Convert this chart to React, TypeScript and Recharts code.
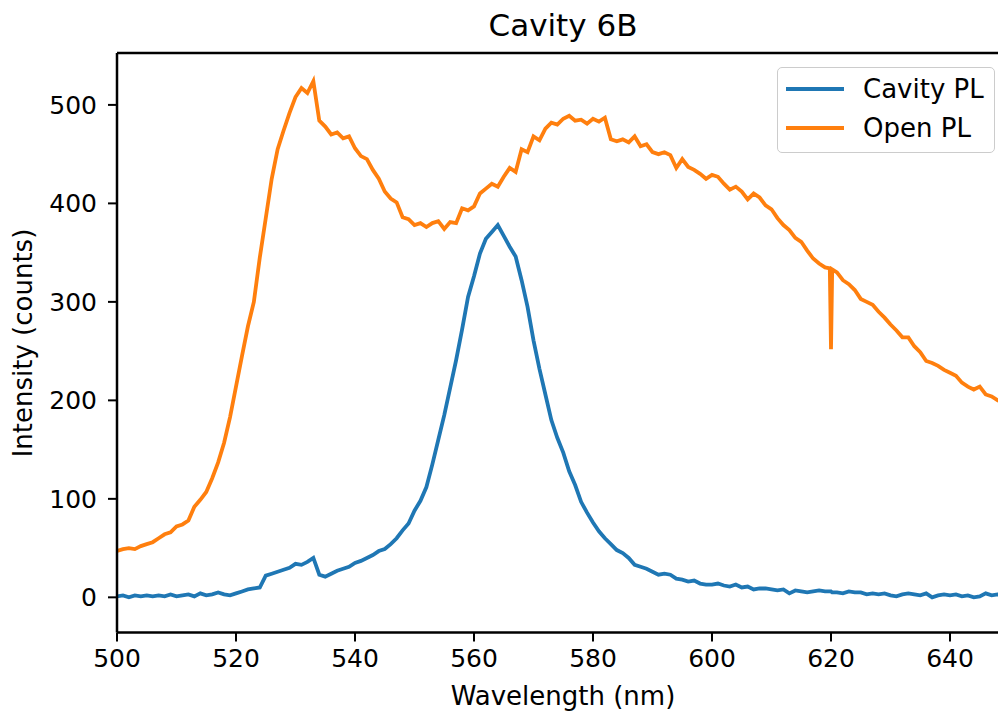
import { LineChart, Line, XAxis, YAxis, ReferenceLine, Legend } from 'recharts';

// wavelength grid (nm); extra points around the 620 nm spike
const wavelengths = [
  500, 501, 502, 503, 504, 505, 506, 507, 508, 509,
  510, 511, 512, 513, 514, 515, 516, 517, 518, 519,
  520, 521, 522, 523, 524, 525, 526, 527, 528, 529,
  530, 531, 532, 533, 534, 535, 536, 537, 538, 539,
  540, 541, 542, 543, 544, 545, 546, 547, 548, 549,
  550, 551, 552, 553, 554, 555, 556, 557, 558, 559,
  560, 561, 562, 563, 564, 565, 566, 567, 568, 569,
  570, 571, 572, 573, 574, 575, 576, 577, 578, 579,
  580, 581, 582, 583, 584, 585, 586, 587, 588, 589,
  590, 591, 592, 593, 594, 595, 596, 597, 598, 599,
  600, 601, 602, 603, 604, 605, 606, 607, 608, 609,
  610, 611, 612, 613, 614, 615, 616, 617, 618, 619,
  619.8, 620, 620.2,
  621, 622, 623, 624, 625, 626, 627, 628, 629, 630,
  631, 632, 633, 634, 635, 636, 637, 638, 639, 640,
  641, 642, 643, 644, 645, 646, 647, 648, 649, 650,
];

const cavityPL = [
  1, 2, 0, 2, 1, 2, 1, 2, 1, 3,
  1, 2, 3, 1, 4, 2, 3, 5, 3, 2,
  4, 6, 8, 9, 10, 22, 24, 26, 28, 30,
  34, 33, 36, 40, 23, 21, 24, 27, 29, 31,
  35, 37, 40, 43, 47, 49, 54, 60, 68, 75,
  88, 98, 112, 135, 160, 185, 213, 241, 272, 305,
  326, 349, 364, 371, 378, 367, 356, 346, 322, 295,
  261, 232, 206, 180, 162, 147, 128, 114, 97, 86,
  76, 67, 60, 54, 48, 45, 40, 33, 31, 29,
  26, 23, 24, 23, 19, 18, 16, 17, 14, 13,
  13, 14, 12, 11, 13, 10, 11, 8, 9, 9,
  8, 7, 8, 4, 7, 6, 5, 6, 7, 6,
  6, 6, 5,
  5, 4, 6, 5, 5, 3, 4, 3, 4, 2,
  1, 3, 4, 3, 2, 4, 0, 2, 3, 2,
  3, 1, 2, 0, 1, 4, 2, 3, 2, 3,
];

const openPL = [
  47, 49, 50, 49, 52, 54, 56, 60, 64, 66,
  72, 74, 78, 92, 99, 107, 121, 137, 157, 183,
  214, 245, 275, 300, 345, 385, 425, 455, 474, 492,
  508, 517, 512, 524, 484, 478, 470, 472, 466, 468,
  456, 448, 445, 434, 425, 412, 405, 401, 386, 384,
  378, 380, 376, 380, 382, 374, 381, 380, 395, 393,
  397, 410, 415, 420, 417, 427, 436, 432, 455, 452,
  468, 464, 476, 482, 480, 486, 489, 484, 485, 481,
  486, 483, 487, 465, 463, 465, 462, 468, 458, 460,
  452, 450, 452, 449, 436, 445, 437, 434, 430, 425,
  429, 427, 420, 414, 417, 412, 404, 410, 406, 398,
  394, 385, 378, 373, 365, 361, 352, 344, 339, 335,
  334, 252, 333,
  330, 322, 318, 312, 303, 300, 297, 290, 284, 277,
  271, 264, 264, 255, 249, 240, 238, 235, 231, 228,
  225, 218, 214, 211, 214, 206, 204, 200, 198, 196,
];

const xTicks = [500, 520, 540, 560, 580, 600, 620, 640];
const yTicks = [0, 100, 200, 300, 400, 500];

const seriesNames = ['Cavity PL', 'Open PL'];
const seriesColors = ['#1f77b4', '#ff7f0e'];

const data = wavelengths.map((w, i) => ({
  wavelength: w,
  cavity: cavityPL[i],
  open: openPL[i],
}));

const FONT = '"DejaVu Sans", sans-serif';

const LegendBox = () => (
  <div
    style={{
      width: 218,
      height: 86,
      boxSizing: 'border-box',
      border: '1.5px solid #cccccc',
      borderRadius: 5,
      background: 'rgba(255,255,255,0.8)',
      position: 'relative',
      fontFamily: FONT,
      fontSize: 26,
      color: '#000',
    }}
  >
    {seriesNames.map((name, i) => (
      <div key={name}>
        <div
          style={{
            position: 'absolute',
            left: 8,
            top: (i === 0 ? 21 : 60) - 2,
            width: 58,
            height: 4,
            background: seriesColors[i],
          }}
        />
        <div
          style={{
            position: 'absolute',
            left: 85,
            top: (i === 0 ? 21 : 60) - 15,
            lineHeight: '30px',
            whiteSpace: 'nowrap',
          }}
        >
          {name}
        </div>
      </div>
    ))}
  </div>
);

const App = () => {
  return (
    <div
      style={{
        position: 'absolute',
        left: 0,
        top: 0,
        width: 998,
        height: 713,
        overflow: 'hidden',
        background: '#fff',
      }}
    >
      <div
        style={{
          position: 'absolute',
          left: 0,
          width: 1126,
          top: 10,
          textAlign: 'center',
          fontFamily: FONT,
          fontSize: 31,
          lineHeight: '31px',
          color: '#000',
        }}
      >
        Cavity 6B
      </div>
      <LineChart
        width={1020}
        height={713}
        data={data}
        margin={{ top: 53, right: 10.5, bottom: 0, left: 0 }}
      >
        <XAxis
          dataKey="wavelength"
          type="number"
          domain={[500, 650]}
          ticks={xTicks}
          allowDataOverflow
          height={80.5}
          axisLine={{ stroke: '#000', strokeWidth: 2.5 }}
          tickLine={{ stroke: '#000', strokeWidth: 2 }}
          tickSize={9}
          tickMargin={8}
          tick={{ fill: '#000', fontSize: 25, fontFamily: FONT }}
          label={{
            content: () => (
              <text x={563} y={705} textAnchor="middle" fontSize={26} fontFamily={FONT} fill="#000">
                Wavelength (nm)
              </text>
            ),
          }}
        />
        <YAxis
          type="number"
          domain={[-35.7, 552.7]}
          ticks={yTicks}
          allowDataOverflow
          width={117}
          axisLine={{ stroke: '#000', strokeWidth: 2.5 }}
          tickLine={{ stroke: '#000', strokeWidth: 2 }}
          tickSize={9}
          tickMargin={11}
          tick={{ fill: '#000', fontSize: 25, fontFamily: FONT }}
          label={{
            content: () => (
              <text
                x={32}
                y={343}
                transform="rotate(-90 32 343)"
                textAnchor="middle"
                fontSize={26}
                fontFamily={FONT}
                fill="#000"
              >
                Intensity (counts)
              </text>
            ),
          }}
        />
        <ReferenceLine y={552.7} stroke="#000" strokeWidth={2.5} ifOverflow="visible" />
        <ReferenceLine x={650} stroke="#000" strokeWidth={2.5} ifOverflow="visible" />
        <Line
          type="linear"
          dataKey="cavity"
          name="Cavity PL"
          stroke={seriesColors[0]}
          strokeWidth={3.8}
          dot={false}
          isAnimationActive={false}
        />
        <Line
          type="linear"
          dataKey="open"
          name="Open PL"
          stroke={seriesColors[1]}
          strokeWidth={3.8}
          dot={false}
          isAnimationActive={false}
        />
        <Legend
          layout="horizontal"
          align="center"
          verticalAlign="middle"
          content={() => <LegendBox />}
          wrapperStyle={{ top: 67, left: 777, width: 218, height: 86 }}
        />
      </LineChart>
    </div>
  );
};

export default App;
